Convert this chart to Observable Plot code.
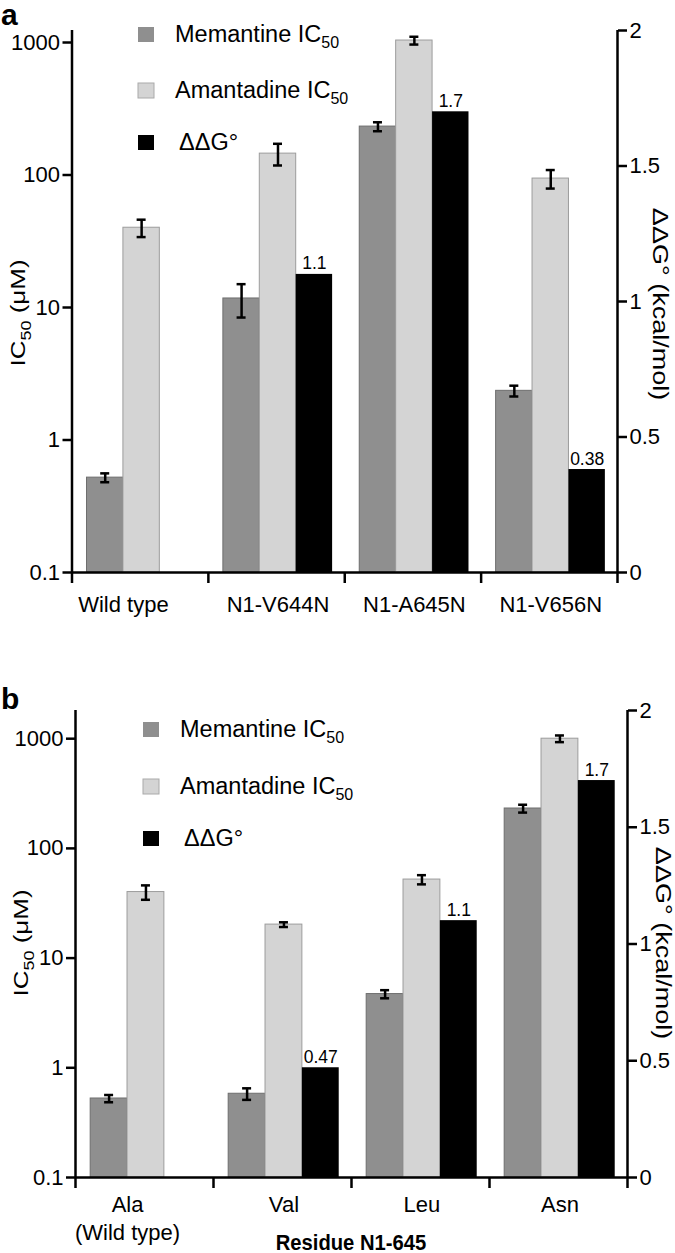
<!DOCTYPE html>
<html><head><meta charset="utf-8">
<script src="https://cdn.jsdelivr.net/npm/d3@7"></script>
<script src="https://cdn.jsdelivr.net/npm/@observablehq/plot@0.6"></script>
<style>
body{margin:0;background:#fff;font-family:"Liberation Sans",Arial,sans-serif;}
.panel{position:relative;width:675px;}
.panel svg{position:absolute;left:0;top:0;}
</style></head><body>
<div id="pa" class="panel" style="height:625px"></div>
<div id="pb" class="panel" style="height:628px"></div>
<script>
// ---------- data ----------
const seriesNames = ["Memantine IC50", "Amantadine IC50", "ΔΔG°"];

const groupsA = ["Wild type", "N1-V644N", "N1-A645N", "N1-V656N"];
const memA    = [0.52, 11.7, 232, 2.35];
const memErrA = [0.04, 3.3, 18, 0.22];
const amaA    = [40, 145, 1035, 94];
const amaErrA = [6, 27, 70, 15];
const ddgA    = [null, 1.1, 1.7, 0.38];
const ddgTxtA = ["", "1.1", "1.7", "0.38"];

const groupsB = ["Ala\n(Wild type)", "Val", "Leu", "Asn"];
const memB    = [0.525, 0.58, 4.7, 231];
const memErrB = [0.04, 0.07, 0.4, 19];
const amaB    = [40, 20.2, 52, 1000];
const amaErrB = [6, 1, 5, 70];
const ddgB    = [null, 0.47, 1.1, 1.7];
const ddgTxtB = ["", "0.47", "1.1", "1.7"];

const icTicks  = [0.1, 1, 10, 100, 1000];
const ddgTicks = [0, 0.5, 1, 1.5, 2];

// ---------- styling ----------
const FILL   = ["#8f8f8f", "#d4d4d4", "#000000"];
const STROKE = ["#6e6e6e", "#9c9c9c", "#000000"];
const OFF = 0.11, BW = 0.267;   // slot offset / width inside a group (group units)
const FONT = "'Liberation Sans', Arial, sans-serif";

function rows(groups, vals, errs, j, txt) {
  return groups.map((g, i) => ({
    group: g, i, j, value: vals[i], err: errs ? errs[i] : 0, txt: txt ? txt[i] : "",
    x1: i + OFF + j * BW, x2: i + OFF + (j + 1) * BW, xc: i + OFF + (j + 0.5) * BW
  })).filter(d => d.value != null);
}

function panel(cfg) {
  const el = document.getElementById(cfg.id);
  const mem = rows(cfg.groups, cfg.mem, cfg.memErr, 0);
  const ama = rows(cfg.groups, cfg.ama, cfg.amaErr, 1);
  const ddg = rows(cfg.groups, cfg.ddg, null, 2, cfg.ddgTxt);
  const ic = mem.concat(ama);
  const all = ic.concat(ddg);
  const labels = cfg.groups.map((g, i) => {
    const b = all.filter(d => d.i === i);
    return {name: g, xc: (d3.min(b, d => d.x1) + d3.max(b, d => d.x2)) / 2};
  });
  const common = {
    width: 675, height: cfg.height,
    marginTop: cfg.mt, marginBottom: cfg.mb, marginLeft: cfg.ml, marginRight: cfg.mr,
    x: {domain: [0, cfg.groups.length], axis: null},
    style: {fontFamily: FONT, background: "transparent", overflow: "visible", color: "black"}
  };
  const sw = 2.5;
  const p1 = Plot.plot({
    ...common,
    y: {type: "log", domain: [0.1, cfg.logMax], axis: null},
    marks: [
      Plot.rectY(ic, {x1: "x1", x2: "x2", y1: () => 0.1, y2: "value",
        fill: d => FILL[d.j], stroke: d => STROKE[d.j], strokeWidth: 1}),
      Plot.ruleX(ic, {x: "xc", y1: d => d.value - d.err, y2: d => d.value + d.err, stroke: "black", strokeWidth: sw}),
      Plot.ruleY(ic, {x1: "xc", x2: "xc", y: d => d.value + d.err, insetLeft: -4.5, insetRight: -4.5, stroke: "black", strokeWidth: sw}),
      Plot.ruleY(ic, {x1: "xc", x2: "xc", y: d => d.value - d.err, insetLeft: -4.5, insetRight: -4.5, stroke: "black", strokeWidth: sw}),
      Plot.ruleX([0], {stroke: "black", strokeWidth: sw}),
      Plot.ruleY([0.1], {stroke: "black", strokeWidth: sw}),
      Plot.axisY({ticks: icTicks, tickFormat: d => String(d), tickSize: 9, tickPadding: 3,
        fontSize: 22, strokeWidth: sw, label: null, anchor: "left"}),
      Plot.axisX({ticks: d3.range(cfg.groups.length + 1), tickFormat: () => "", tickSize: 11,
        strokeWidth: sw, label: null, anchor: "bottom"}),
      Plot.text(labels, {x: "xc", text: "name", frameAnchor: "bottom", lineAnchor: "top",
        dy: cfg.labDy, fontSize: 22, lineHeight: 1.27, fill: "black"})
    ]
  });
  const p2 = Plot.plot({
    ...common,
    y: {domain: [0, 2], axis: null},
    marks: [
      Plot.rectY(ddg, {x1: "x1", x2: "x2", y1: () => 0, y2: "value", fill: "black"}),
      Plot.text(ddg, {x: "xc", y: "value", text: "txt", lineAnchor: "bottom", dy: -5, fontSize: 17.5, fill: "black"}),
      Plot.ruleX([cfg.groups.length], {stroke: "black", strokeWidth: sw}),
      Plot.axisY({ticks: ddgTicks, tickFormat: d => String(d), tickSize: 9, tickPadding: 3,
        fontSize: 22, strokeWidth: sw, label: null, anchor: "right"})
    ]
  });
  el.appendChild(p1);
  el.appendChild(p2);

  const s1 = d3.select(p1);
  // panel letter
  s1.append("text").attr("x", 1).attr("y", cfg.letterY).attr("font-size", 30).attr("font-weight", "bold")
    .attr("text-anchor", "start").attr("fill", "black").text(cfg.letter);
  // left axis title
  const lt = s1.append("text").attr("text-anchor", "middle").attr("fill", "black").attr("font-size", 26)
    .attr("transform", `translate(${cfg.ltX},${cfg.ltY}) rotate(-90) scale(1,0.8)`);
  lt.append("tspan").text("IC");
  lt.append("tspan").attr("font-size", 18).attr("dy", 7).text("50");
  lt.append("tspan").attr("dy", -7).text(" (μM)");
  // legend
  const lg = s1.append("g");
  cfg.legendY.forEach((y, j) => {
    lg.append("rect").attr("x", cfg.legendX).attr("y", y - 15).attr("width", 16).attr("height", 15)
      .attr("fill", FILL[j]).attr("stroke", j === 1 ? "#aaaaaa" : "none").attr("stroke-width", 1);
    const t = lg.append("text").attr("x", cfg.legendX + 37 + (j === 2 ? 4 : 0)).attr("y", y)
      .attr("font-size", 23.5).attr("text-anchor", "start").attr("fill", "black");
    if (j < 2) {
      t.append("tspan").text(seriesNames[j].replace("50", ""));
      t.append("tspan").attr("font-size", 16).attr("dy", 6).text("50");
    } else {
      t.text(seriesNames[j]);
    }
  });
  if (cfg.xTitle) {
    const cx = (cfg.ml + 675 - cfg.mr) / 2;
    s1.append("text").attr("text-anchor", "middle")
      .attr("font-size", 22).attr("font-weight", "bold").attr("fill", "black")
      .attr("transform", `translate(${cx},${cfg.xTitleY}) scale(0.92,1)`)
      .text(cfg.xTitle);
  }
  // right axis title
  d3.select(p2).append("text").attr("text-anchor", "middle").attr("fill", "black").attr("font-size", 27)
    .attr("transform", `translate(${cfg.rtX},${cfg.rtY}) rotate(90) scale(1,0.8)`)
    .text("ΔΔG° (kcal/mol)");
}

panel({id: "pa", height: 625, mt: 30, mb: 53, ml: 71.5, mr: 58, logMax: 1232,
  groups: groupsA, mem: memA, memErr: memErrA, ama: amaA, amaErr: amaErrA, ddg: ddgA, ddgTxt: ddgTxtA,
  letter: "a", letterY: 25, ltX: 25, ltY: 313, rtX: 653, rtY: 304, labDy: 20,
  legendX: 138, legendY: [42, 98, 150]});

panel({id: "pb", height: 628, mt: 85, mb: 76, ml: 75, mr: 48, logMax: 1807,
  groups: groupsB, mem: memB, memErr: memErrB, ama: amaB, amaErr: amaErrB, ddg: ddgB, ddgTxt: ddgTxtB,
  letter: "b", letterY: 84, ltX: 28, ltY: 318, rtX: 656, rtY: 318, labDy: 15,
  legendX: 143, legendY: [112, 169, 221], xTitle: "Residue N1-645", xTitleY: 625});
</script>
</body></html>
